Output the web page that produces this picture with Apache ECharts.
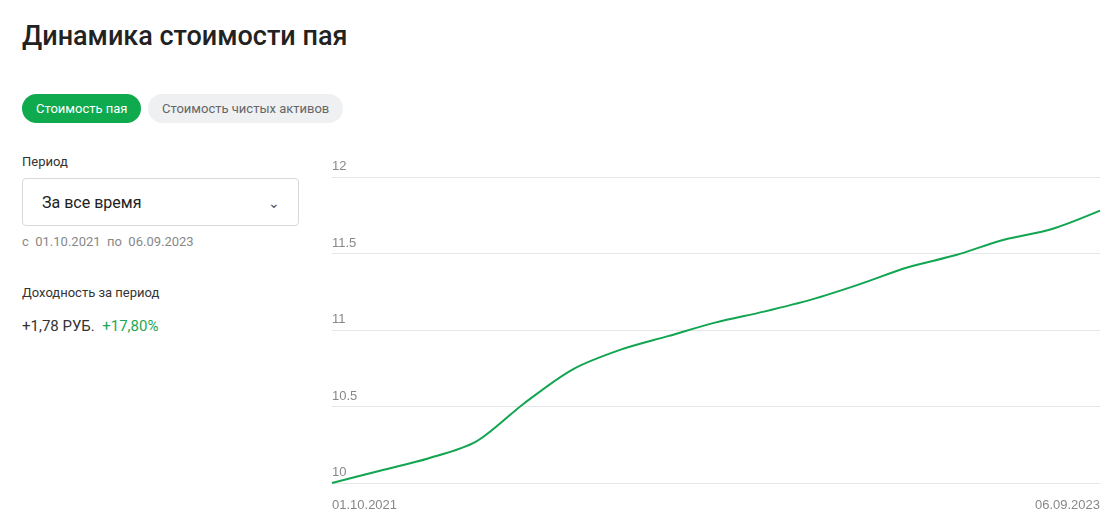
<!DOCTYPE html><html><head><meta charset="utf-8">
<script src="https://cdn.jsdelivr.net/npm/echarts@6/dist/echarts.min.js"></script>
<style>
body{margin:0;width:1104px;height:529px;background:#fff;font-family:Roboto,"Noto Sans",sans-serif;color:#333;position:relative;overflow:hidden}
.a{position:absolute}
.h{left:22px;top:20px;font-size:27px;font-weight:500;color:#222}
.b1{left:22px;top:94px;height:29px;line-height:29px;padding:0 14px;border-radius:15px;background:#0fa94e;color:#fff;font-size:13px}
.b2{left:148px;top:94px;height:29px;line-height:29px;padding:0 14px;border-radius:15px;background:#eef0f2;color:#666;font-size:13px}
.sel{left:22px;top:178px;width:277px;height:48px;border:1px solid #d8d8d8;border-radius:4px;font-size:16px;line-height:48px;box-sizing:border-box;padding-left:19px;color:#222}
</style></head><body>
<div class="a h">Динамика стоимости пая</div>
<div class="a b1">Стоимость пая</div>
<div class="a b2">Стоимость чистых активов</div>
<div class="a" style="left:22px;top:154px;font-size:13px;color:#333">Период</div>
<div class="a sel">За все время<span style="position:absolute;right:18px;top:0;font-size:14px;color:#555">&#8964;</span></div>
<div class="a" style="left:22px;top:234px;font-size:13px;color:#888">с&nbsp; 01.10.2021&nbsp; по&nbsp; 06.09.2023</div>
<div class="a" style="left:22px;top:285px;font-size:13px;color:#333">Доходность за период</div>
<div class="a" style="left:22px;top:317px;font-size:15px;color:#333">+1,78 РУБ.&nbsp; <span style="color:#1aa856">+17,80%</span></div>
<div id="c" class="a" style="left:320px;top:150px;width:784px;height:379px"></div>
<script>
const dates=['01.10.2021','14.11.2021','28.12.2021','10.02.2022','26.03.2022','09.05.2022','22.06.2022','05.08.2022','18.09.2022','01.11.2022','15.12.2022','28.01.2023','13.03.2023','26.04.2023','09.06.2023','23.07.2023','06.09.2023'];
const values=[10.00,10.08,10.16,10.27,10.52,10.74,10.87,10.96,11.05,11.12,11.20,11.30,11.41,11.49,11.59,11.66,11.78];
const yTicks=[10,10.5,11,11.5,12];
const ch=echarts.init(document.getElementById('c'));
ch.setOption({animation:false,grid:{left:12,right:4,top:27,bottom:46},
xAxis:{type:'category',data:dates,boundaryGap:false,axisLine:{lineStyle:{color:'#e6e6e6'}},axisTick:{show:false},
axisLabel:{interval:15,color:'#888',fontSize:13,margin:16,alignMinLabel:'left',alignMaxLabel:'right'}},
yAxis:{type:'value',min:yTicks[0],max:yTicks[yTicks.length-1],interval:0.5,
axisLabel:{inside:true,verticalAlign:'bottom',margin:0,color:'#888',fontSize:13,padding:[0,0,4,0]},
splitLine:{lineStyle:{color:'#e6e6e6'}}},
series:[{type:'line',data:values,symbol:'none',smooth:0.3,lineStyle:{color:'#12a551',width:2}}]});
</script></body></html>
